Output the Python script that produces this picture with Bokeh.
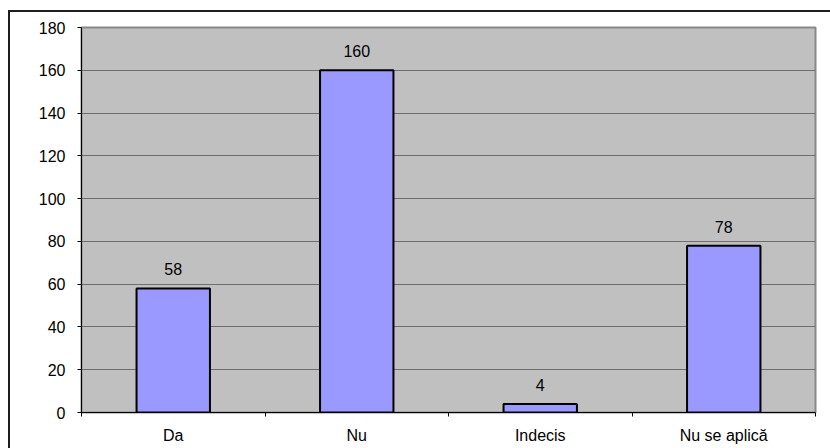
from bokeh.plotting import figure
from bokeh.models import Range1d, FixedTicker, ColumnDataSource, LabelSet
from bokeh.core.properties import value
from bokeh.embed import file_html
from bokeh.resources import INLINE

categories = ["Da", "Nu", "Indecis", "Nu se aplică"]
values = [58, 160, 4, 78]
y_ticks = [0, 20, 40, 60, 80, 100, 120, 140, 160, 180]

xs = [i + 0.5 for i in range(len(categories))]
src = ColumnDataSource(dict(x=xs, top=values, lab=[str(v) for v in values]))

p = figure(width=822, height=438, output_backend="svg", toolbar_location=None,
           x_range=Range1d(0, len(categories)), y_range=Range1d(0, 180),
           min_border_left=71, min_border_right=17, min_border_top=15, min_border_bottom=38)
p.styles = {"border-left": "2px solid #1e1e1e", "border-top": "2px solid #1e1e1e",
            "box-sizing": "border-box", "margin-left": "8px", "margin-top": "10px"}
p.background_fill_color = "#C0C0C0"
p.border_fill_color = "white"
p.outline_line_color = "#888888"
p.outline_line_width = 2

p.vbar(x="x", top="top", width=0.4, source=src, fill_color="#9999FF",
       line_color="black", line_width=2)

labels = LabelSet(x="x", y="top", text="lab", source=src, y_offset=13,
                  text_align="center", text_baseline="alphabetic",
                  text_font=value("Liberation Sans"), text_font_size="16px",
                  text_color="black")
p.add_layout(labels)

# x axis
xa = p.xaxis[0]
xa.ticker = FixedTicker(ticks=xs, minor_ticks=list(range(len(categories) + 1)))
xa.major_label_overrides = {x: c for x, c in zip(xs, categories)}
xa.major_tick_line_color = None
xa.major_tick_out = 0
xa.major_tick_in = 0
xa.minor_tick_out = 4
xa.minor_tick_in = 0
xa.minor_tick_line_color = "black"
xa.major_label_standoff = 10
xa.axis_line_color = "black"
xa.major_label_text_font = "Liberation Sans"
xa.major_label_text_font_size = "16px"
xa.major_label_text_color = "black"

# y axis
ya = p.yaxis[0]
ya.ticker = FixedTicker(ticks=y_ticks)
ya.major_tick_out = 4
ya.major_tick_in = 0
ya.minor_tick_line_color = None
ya.major_tick_line_color = "black"
ya.axis_line_color = "black"
ya.major_label_standoff = 12
ya.major_label_text_font = "Liberation Sans"
ya.major_label_text_font_size = "16px"
ya.major_label_text_color = "black"

p.xgrid.grid_line_color = None
p.ygrid.grid_line_color = "#6e6e6e"
p.ygrid.grid_line_width = 1

open("out.html", "w").write(file_html(p, INLINE))
